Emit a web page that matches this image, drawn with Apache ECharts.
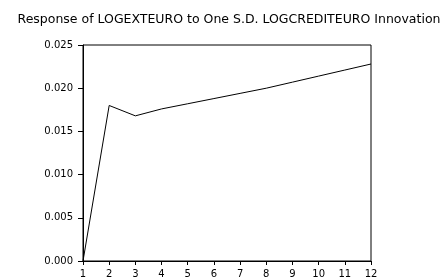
<!DOCTYPE html>
<html>
<head>
<meta charset="utf-8">
<script src="https://cdn.jsdelivr.net/npm/echarts@6/dist/echarts.min.js"></script>
<style>
  html, body { margin: 0; padding: 0; background: #fff; }
  #chart { width: 446px; height: 280px; }
</style>
</head>
<body>
<div id="chart"></div>
<script>
/** 脉冲响应：LOGEXTEURO 对 LOGCREDITEURO 冲击 */
const TITLE = "Response of LOGEXTEURO to One S.D. LOGCREDITEURO Innovation"
const periods = ["1", "2", "3", "4", "5", "6", "7", "8", "9", "10", "11", "12"]
const response = [0.0, 0.0180, 0.0168, 0.0176, 0.0182, 0.0188, 0.0194, 0.0200, 0.0207, 0.0214, 0.0221, 0.0228]

let chart = echarts.init(document.getElementById("chart"))

let axisText = { color: "#000", fontFamily: "DejaVu Sans, sans-serif", fontSize: 10 }

chart.setOption({
    animation: false,
    title: {
        text: TITLE,
        left: 224,
        textAlign: "center",
        top: 8,
        textStyle: { color: "#000", fontFamily: "DejaVu Sans, sans-serif", fontSize: 12.5, fontWeight: "normal" }
    },
    grid: { left: 83, right: 75, top: 45, bottom: 19, show: true, borderColor: "#000", borderWidth: 1 },
    xAxis: {
        type: "category",
        data: periods,
        boundaryGap: false,
        axisLine: { lineStyle: { color: "#000" } },
        axisTick: { alignWithLabel: true, length: 4, lineStyle: { color: "#000" } },
        axisLabel: Object.assign({ margin: 8, interval: 0 }, axisText),
        splitLine: { show: false }
    },
    yAxis: {
        type: "value",
        min: 0,
        max: 0.025,
        interval: 0.005,
        axisLine: { show: true, lineStyle: { color: "#000" } },
        axisTick: { show: true, length: 5, lineStyle: { color: "#000" } },
        axisLabel: Object.assign({ margin: 10, formatter: v => v.toFixed(3) }, axisText),
        splitLine: { show: false }
    },
    series: [{
        type: "line",
        data: response,
        showSymbol: false,
        lineStyle: { color: "#000", width: 1 }
    }]
})
</script>
</body>
</html>
